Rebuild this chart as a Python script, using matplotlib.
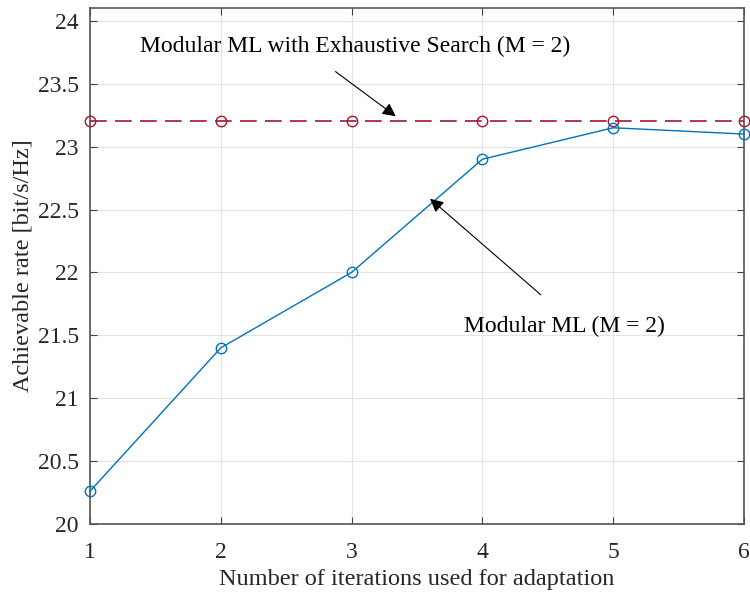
import matplotlib.pyplot as plt

plt.rcParams['font.family'] = ['Liberation Serif', 'DejaVu Serif']

iterations = [1, 2, 3, 4, 5, 6]
modular_ml = [20.26, 21.4, 22.0, 22.9, 23.15, 23.1]
exhaustive = [23.2, 23.2, 23.2, 23.2, 23.2, 23.2]
yticks = [20, 20.5, 21, 21.5, 22, 22.5, 23, 23.5, 24]
ytick_labels = ['20', '20.5', '21', '21.5', '22', '22.5', '23', '23.5', '24']

fig = plt.figure(figsize=(7.5, 5.92), dpi=100)
ax = fig.add_axes([0.12, 0.115, 0.872, 0.871])

ax.plot(iterations, exhaustive, '--o', color='#A2142F', lw=1.2, dashes=(10, 5),
        markersize=7.5, markerfacecolor='none', markeredgewidth=1.0, clip_on=False, zorder=3)
ax.plot(iterations, modular_ml, '-o', color='#0072BD', lw=1.0,
        markersize=7.5, markerfacecolor='none', markeredgewidth=1.0, clip_on=False, zorder=3)

ax.set_xlim(1, 6)
ax.set_ylim(20, 24.1)
ax.set_xticks(iterations)
ax.set_yticks(yticks)
ax.set_yticklabels(ytick_labels)
ax.grid(True, color='#e3e3e3', lw=0.8)
ax.set_axisbelow(True)
ax.tick_params(direction='in', top=True, right=True, labelsize=17, length=5,
               color='#404040', labelcolor='#262626')
ax.tick_params(axis='x', pad=13)
ax.tick_params(axis='y', pad=8)
for s in ax.spines.values():
    s.set_color('#555555')
    s.set_linewidth(1.2)

ax.set_xlabel('Number of iterations used for adaptation', fontsize=17.5, color='#262626', labelpad=4)
ax.set_ylabel('Achievable rate [bit/s/Hz]', fontsize=17.5, color='#262626', labelpad=3)

arrow = dict(arrowstyle='-|>', color='black', lw=0.8, mutation_scale=20)
ax.annotate('', xy=(3.355, 23.228), xytext=(2.86, 23.61), arrowprops=arrow)
ax.text(3.03, 23.8, 'Modular ML with Exhaustive Search (M = 2)', fontsize=17,
        ha='center', va='center')
ax.annotate('', xy=(3.584, 22.60), xytext=(4.463, 21.807), arrowprops=arrow)
ax.text(4.63, 21.57, 'Modular ML (M = 2)', fontsize=17, ha='center', va='center')

fig.savefig('out.png', dpi=100)
